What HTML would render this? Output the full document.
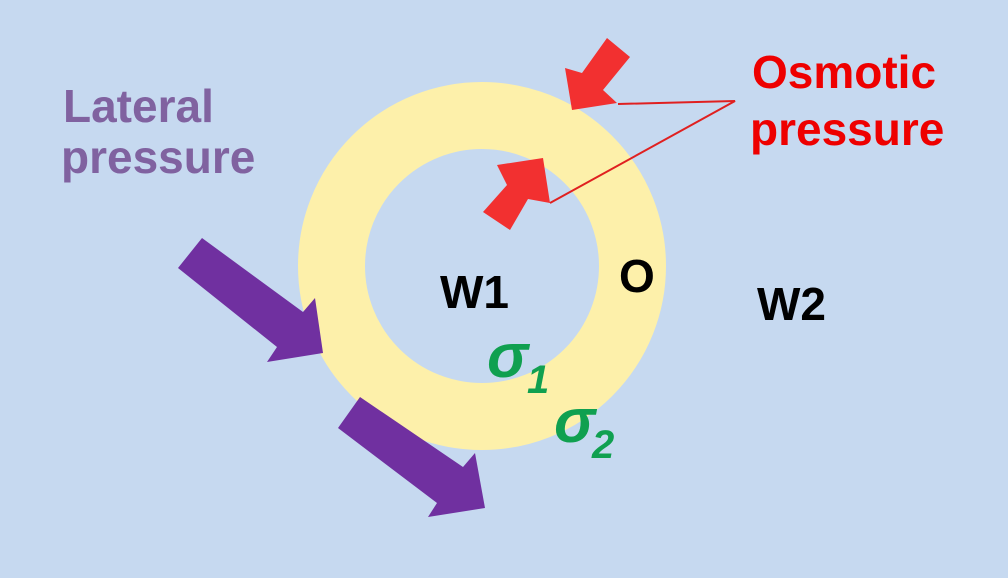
<!DOCTYPE html>
<html><head><meta charset="utf-8"><style>
html,body{margin:0;padding:0;background:#c6d9f0;}
svg{display:block;}
text{font-family:"Liberation Sans",sans-serif;font-weight:bold;}
</style></head><body>
<svg width="1008" height="578" viewBox="0 0 1008 578" xmlns="http://www.w3.org/2000/svg">
<rect x="0" y="0" width="1008" height="578" fill="#c6d9f0"/>
<circle cx="482" cy="266" r="150.5" fill="none" stroke="#fdf0aa" stroke-width="67"/>
<!-- red arrows -->
<polygon points="607,38 630,57 603,90 617,103 572,110 565,68 582,73" fill="#f23030"/>
<polygon points="483,212 507,185 497,165 543,158 550,203 528,199 510,230" fill="#f23030"/>
<polyline points="618,104 735,101 550,203" fill="none" stroke="#e02020" stroke-width="2"/>
<!-- purple arrows -->
<polygon points="178,268 202,238 303,312 315,298 323,353 267,362 277,347" fill="#7030a0"/>
<polygon points="338,428 360,397 463,467 475,453 485,508 428,517 437,503" fill="#7030a0"/>
<text x="63" y="122" font-size="46" fill="#8062a0">Lateral</text>
<text x="61" y="173" font-size="46" fill="#8062a0">pressure</text>
<text x="752" y="88" font-size="46" fill="#ee0000">Osmotic</text>
<text x="750" y="145" font-size="46" fill="#ee0000">pressure</text>
<text x="440" y="308" font-size="46" fill="#000">W1</text>
<text x="619" y="292" font-size="46" fill="#000">O</text>
<text x="757" y="320" font-size="46" fill="#000">W2</text>
<text x="487" y="377" font-size="62" font-style="italic" fill="#10a050">σ</text>
<text x="527" y="393" font-size="40" font-style="italic" fill="#10a050">1</text>
<text x="554" y="442" font-size="62" font-style="italic" fill="#10a050">σ</text>
<text x="592" y="458" font-size="40" font-style="italic" fill="#10a050">2</text>
</svg>
</body></html>
